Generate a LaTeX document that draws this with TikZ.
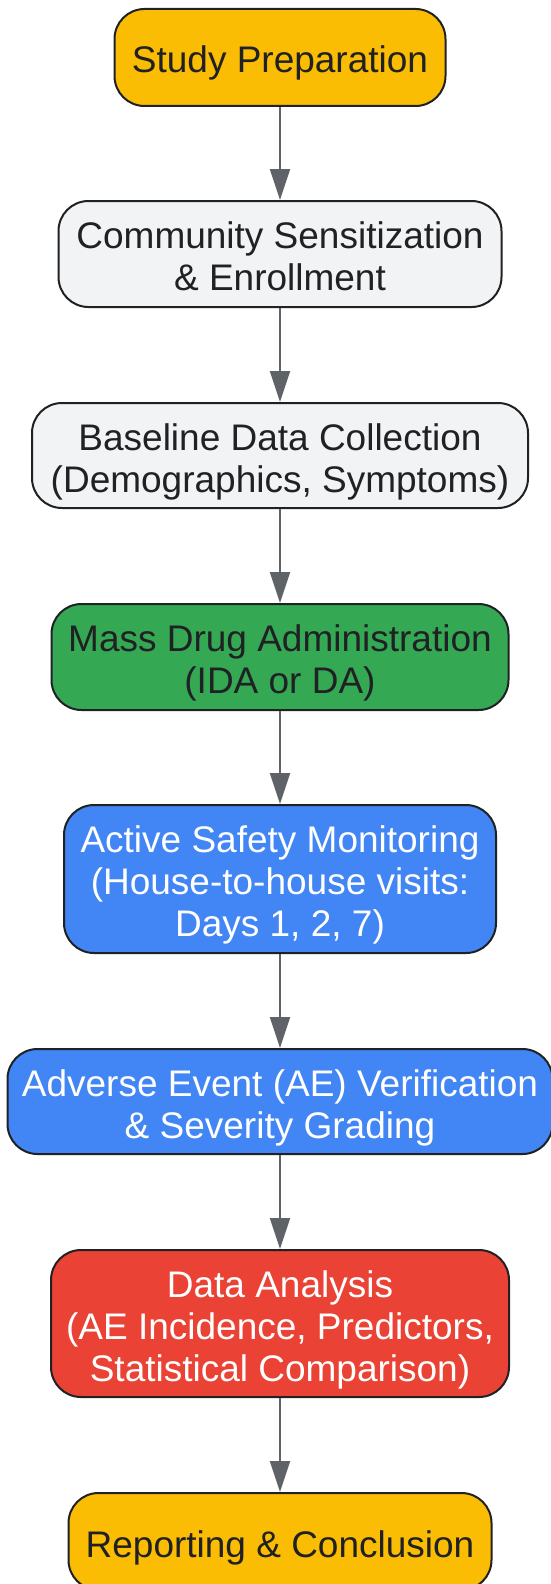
\documentclass[tikz,border=0pt]{standalone}
\usepackage{fontspec}
\setmainfont{Liberation Sans}
\usetikzlibrary{arrows.meta}
\definecolor{gyellow}{HTML}{FBBC04}
\definecolor{glight}{HTML}{F1F3F4}
\definecolor{ggreen}{HTML}{34A853}
\definecolor{gblue}{HTML}{4285F4}
\definecolor{gred}{HTML}{EA4335}
\definecolor{gdark}{HTML}{202124}
\definecolor{garrow}{HTML}{5F6368}
\newcommand{\flowtop}{\rule{0pt}{39pt}}
\newcommand{\flowbot}{\rule[-8pt]{0pt}{8pt}}
\tikzset{
  flowbox/.style={draw=gdark, line width=2pt, rounded corners=30pt, inner sep=0pt, align=center,
    text=gdark, font=\fontsize{37}{42}\selectfont},
  flowarrow/.style={draw=garrow, line width=2pt, -{Triangle[width=20pt,length=31pt]}, fill=garrow}
}
\begin{document}
\begin{tikzpicture}[x=1pt,y=-1pt]
\useasboundingbox (0,0) rectangle (550,1584);
\node[flowbox, fill=gyellow, minimum width=331pt, minimum height=97pt] (n1) at (280,57.5) {\flowtop Study Preparation\flowbot};
\node[flowbox, fill=glight, minimum width=443pt, minimum height=106pt] (n2) at (280,254) {\flowtop Community Sensitization\\\& Enrollment\flowbot};
\node[flowbox, fill=glight, minimum width=496pt, minimum height=105pt] (n3) at (280,455.5) {\flowtop Baseline Data Collection\\(Demographics, Symptoms)\flowbot};
\node[flowbox, fill=ggreen, minimum width=457pt, minimum height=106pt] (n4) at (280,657) {\flowtop Mass Drug Administration\\(IDA or DA)\flowbot};
\node[flowbox, fill=gblue, text=white, minimum width=432pt, minimum height=148pt] (n5) at (280,879) {\flowtop Active Safety Monitoring\\(House-to-house visits:\\Days 1, 2, 7)\flowbot};
\node[flowbox, fill=gblue, text=white, minimum width=545pt, minimum height=105pt] (n6) at (280,1101.5) {\flowtop Adverse Event (AE) Verification\\\& Severity Grading\flowbot};
\node[flowbox, fill=gred, text=white, minimum width=458pt, minimum height=147pt] (n7) at (280,1323.5) {\flowtop Data Analysis\\(AE Incidence, Predictors,\\Statistical Comparison)\flowbot};
\node[flowbox, fill=gyellow, minimum width=423pt, minimum height=97pt] (n8) at (280,1541.5) {\flowtop Reporting \& Conclusion\flowbot};
\draw[flowarrow] (n1) -- (n2);
\draw[flowarrow] (n2) -- (n3);
\draw[flowarrow] (n3) -- (n4);
\draw[flowarrow] (n4) -- (n5);
\draw[flowarrow] (n5) -- (n6);
\draw[flowarrow] (n6) -- (n7);
\draw[flowarrow] (n7) -- (n8);
\end{tikzpicture}
\end{document}
